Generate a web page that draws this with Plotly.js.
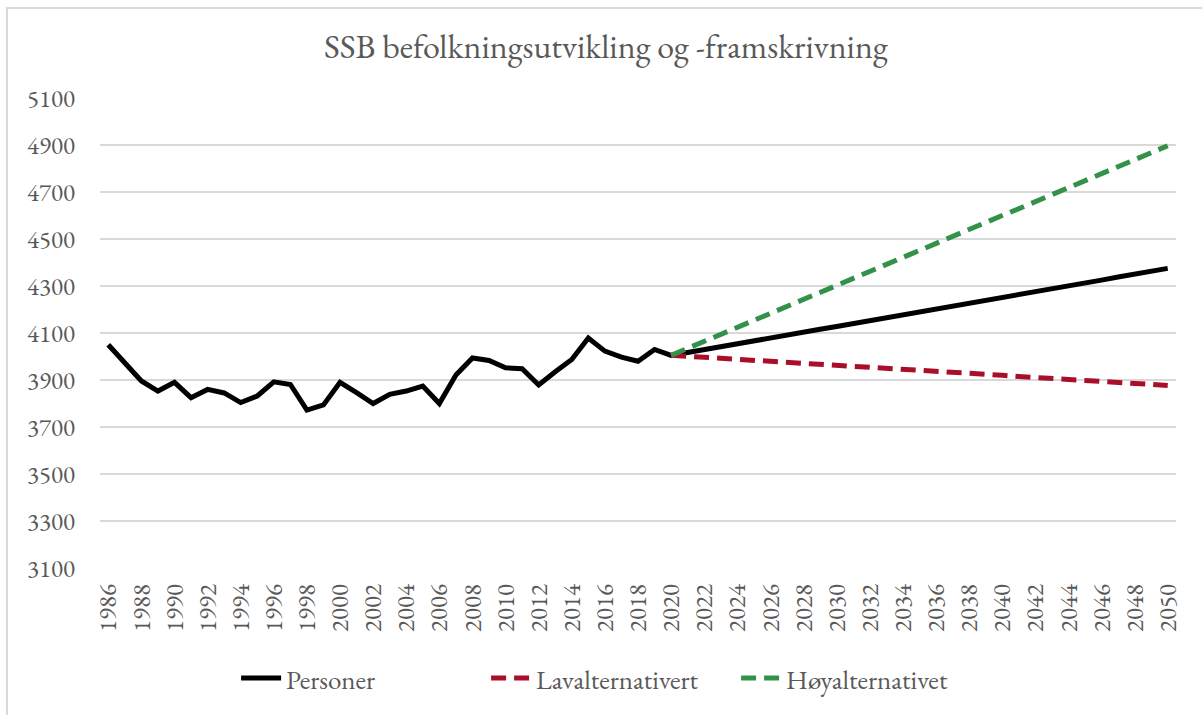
<!DOCTYPE html>
<html>
<head>
<meta charset="utf-8">
<script src="https://cdn.plot.ly/plotly-3.0.1.min.js"></script>
<style>
  html, body { margin: 0; padding: 0; background: #fff; overflow: hidden; }
  #frame { position: absolute; left: 6px; top: 7px; width: 1230px; height: 730px; border: 2px solid #d9d9d9; box-sizing: border-box; }
  #chart { position: absolute; left: 0; top: 0; width: 1202px; height: 715px; }
  #chart text { font-variant-numeric: lining-nums; font-feature-settings: "lnum" 1; }
</style>
</head>
<body>
<div id="frame"></div>
<div id="chart"></div>
<script>
// Years
const years = [];
for (let y = 1986; y <= 2050; y++) years.push(y);

// Personer (historical + main projection)
const personer = [
  4050, 3970, 3896, 3853, 3890, 3825, 3860, 3845, 3804, 3832,
  3892, 3881, 3772, 3794, 3890, 3846, 3800, 3839, 3853, 3874,
  3800, 3921, 3994, 3983, 3952, 3948, 3879, 3935, 3987, 4079,
  4023, 3997, 3980, 4030, 4005,
  4017, 4030, 4042, 4054, 4067, 4079, 4091, 4104, 4116, 4128,
  4140, 4153, 4165, 4177, 4190, 4202, 4214, 4227, 4239, 4251,
  4264, 4276, 4288, 4301, 4313, 4325, 4338, 4350, 4362, 4375
];

// Projection years
const projYears = [];
for (let y = 2020; y <= 2050; y++) projYears.push(y);

const lavalternativ = [
  4005, 4001, 3996, 3992, 3988, 3984, 3979, 3975, 3971, 3967,
  3962, 3958, 3954, 3950, 3945, 3941, 3937, 3932, 3928, 3924,
  3920, 3915, 3911, 3907, 3903, 3898, 3894, 3890, 3886, 3881, 3877
];

const hoyalternativ = [
  4005, 4035, 4064, 4094, 4124, 4154, 4183, 4213, 4243, 4273,
  4302, 4332, 4362, 4391, 4421, 4451, 4481, 4510, 4540, 4570,
  4600, 4629, 4659, 4689, 4718, 4748, 4778, 4808, 4837, 4867, 4897
];

const seriesNames = ['Personer', 'Lavalternativert', 'Høyalternativet'];
const yTicks = [3100, 3300, 3500, 3700, 3900, 4100, 4300, 4500, 4700, 4900, 5100];
const xTicks = [];
for (let y = 1986; y <= 2050; y += 2) xTicks.push(y);

const FONT = 'EB Garamond';
const GRAY = '#595959';

const traces = [
  { x: years, y: personer, name: seriesNames[0], mode: 'lines',
    line: { color: '#000000', width: 5 } },
  { x: projYears, y: lavalternativ, name: seriesNames[1], mode: 'lines',
    line: { color: '#AA0F2A', width: 5, dash: '15px,8px' } },
  { x: projYears, y: hoyalternativ, name: seriesNames[2], mode: 'lines',
    line: { color: '#34914A', width: 5, dash: '15px,8px' } }
];

const layout = {
  width: 1202, height: 715,
  paper_bgcolor: 'rgba(0,0,0,0)', plot_bgcolor: 'rgba(0,0,0,0)',
  margin: { l: 100, r: 26, t: 98, b: 144 },
  font: { family: FONT, color: GRAY, size: 25 },
  title: {
    text: 'SSB befolkningsutvikling og -framskrivning',
    font: { family: FONT, size: 34, color: GRAY },
    x: 0.504, xanchor: 'center', y: 0.936, yanchor: 'middle', yref: 'container'
  },
  xaxis: {
    range: [1985.5, 2050.5],
    tickmode: 'array', tickvals: xTicks, ticktext: xTicks.map(String),
    tickangle: -90, showgrid: false, zeroline: false,
    showline: false, ticks: '', ticklabelstandoff: 10,
    tickfont: { family: FONT, size: 25, color: GRAY }
  },
  yaxis: {
    range: [3100, 5100],
    tickmode: 'array', tickvals: yTicks, ticktext: yTicks.map(String),
    showgrid: true, gridcolor: '#d9d9d9', gridwidth: 1.5,
    zeroline: false, showline: false, ticks: '', ticklabelstandoff: 24,
    tickfont: { family: FONT, size: 25, color: GRAY }
  },
  showlegend: true,
  legend: {
    orientation: 'h', x: 0.475, xanchor: 'center', y: -0.235, yanchor: 'middle',
    font: { family: FONT, size: 27, color: GRAY }, itemwidth: 40,
    entrywidth: 195, entrywidthmode: 'pixels',
    traceorder: 'normal'
  }
};

Plotly.newPlot('chart', traces, layout, { displayModeBar: false, staticPlot: true });
</script>
</body>
</html>
